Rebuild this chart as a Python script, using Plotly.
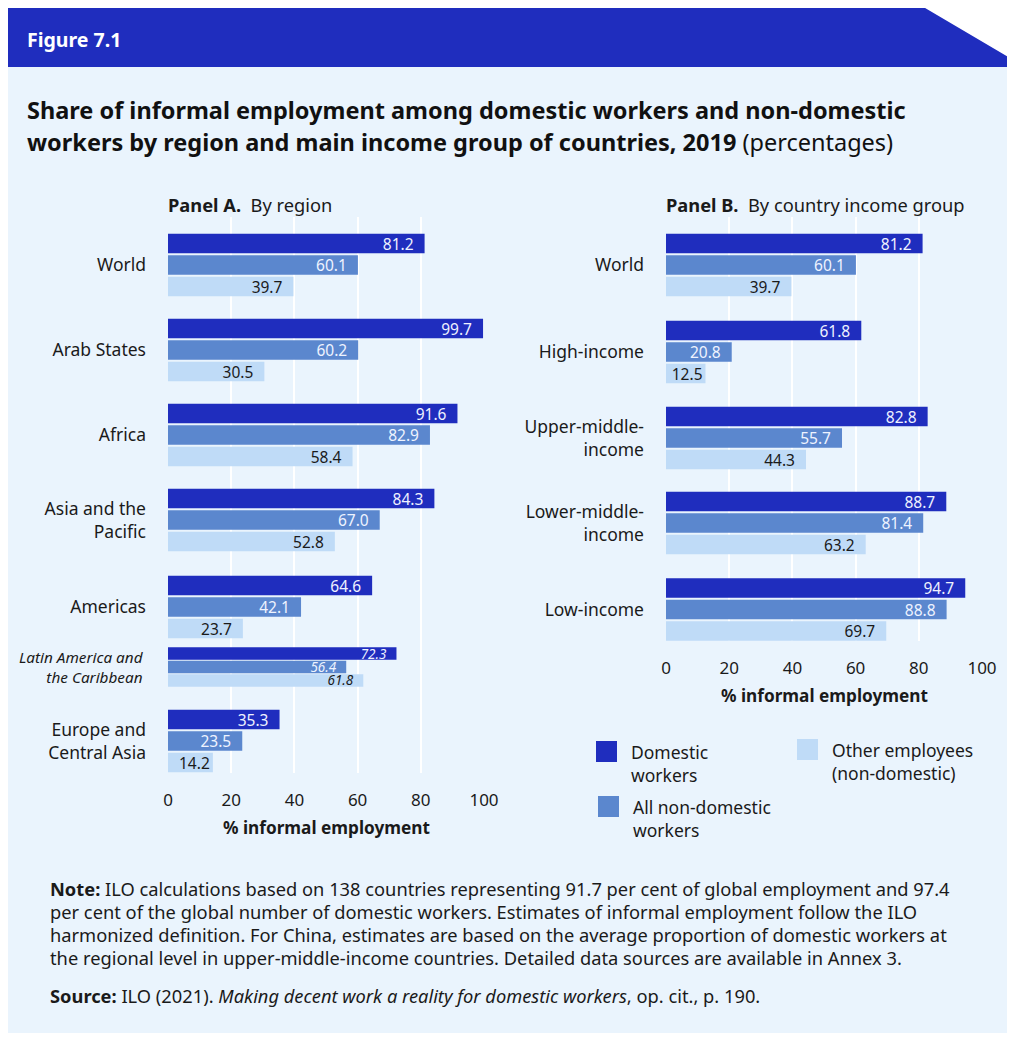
import plotly.graph_objects as go

# ---------------- data ----------------
series_names = ["Domestic workers", "All non-domestic workers", "Other employees (non-domestic)"]
legend_labels = ["Domestic<br>workers", "All non-domestic<br>workers", "Other employees<br>(non-domestic)"]

regions = ["World", "Arab States", "Africa", "Asia and the Pacific", "Americas",
           "Latin America and the Caribbean", "Europe and Central Asia"]
region_tick_labels = ["World", "Arab States", "Africa", "Asia and the<br>Pacific", "Americas",
                      "Latin America and<br>the Caribbean", "Europe and<br>Central Asia"]
region_domestic = [81.2, 99.7, 91.6, 84.3, 64.6, 72.3, 35.3]
region_nondomestic = [60.1, 60.2, 82.9, 67.0, 42.1, 56.4, 23.5]
region_other = [39.7, 30.5, 58.4, 52.8, 23.7, 61.8, 14.2]
region_is_subregion = [False, False, False, False, False, True, False]

income_groups = ["World", "High-income", "Upper-middle-income", "Lower-middle-income", "Low-income"]
income_tick_labels = ["World", "High-income", "Upper-middle-<br>income", "Lower-middle-<br>income", "Low-income"]
income_domestic = [81.2, 61.8, 82.8, 88.7, 94.7]
income_nondomestic = [60.1, 20.8, 55.7, 81.4, 88.8]
income_other = [39.7, 12.5, 44.3, 63.2, 69.7]

x_ticks = [0, 20, 40, 60, 80, 100]

# ---------------- styles / layout ----------------
# page body adds 8px margin; figure sized so the page is exactly the window
OFF = 8
PAGE_W, PAGE_H = 1015, 1041
W, H = PAGE_W - 2 * OFF, PAGE_H - 2 * OFF
FONT = "Noto Sans"
BG = "#EAF4FD"
HEADER = "#1F2DBE"
COLORS = ["#1F2DBE", "#5B87CE", "#BFDBF7"]
TEXT_COLORS = ["#EEF1FF", "#EEF3FF", "#1A1A1A"]
DARK = "#1A1A1A"


def px(x):
    """page pixel x -> paper fraction"""
    return (x - OFF) / W


def py(y):
    """page pixel y -> paper fraction"""
    return 1 - (y - OFF) / H


# panel geometry (page pixels)
A_left, A_right, A_top, A_bottom = 168, 484, 217, 773
B_left, B_right, B_top, B_bottom = 666, 982, 217, 641
LABEL_GAP = 21

# group centres (pixel units on the y axis) and bar pitch
A_centers = [265, 350, 435, 520, 607, 667, 741]
B_centers = [265, 352, 438, 523, 609.5]
PITCH, BAR_W = 21.5, 19.5
SUB_PITCH, SUB_W = 13.4, 12.5

fig = go.Figure()


def add_panel(values_list, centers, subflags, xaxis, yaxis):
    for k, (vals, name) in enumerate(zip(values_list, series_names)):
        ys, widths, texts, sizes = [], [], [], []
        for c, v, sub in zip(centers, vals, subflags):
            p = SUB_PITCH if sub else PITCH
            ys.append(c + (k - 1) * p)
            widths.append(SUB_W if sub else BAR_W)
            t = f"{v:.1f}"
            pad = "\u00a0\u00a0" if v >= 15 else ""
            texts.append((f"<i>{t}</i>" if sub else t) + pad)
            sizes.append(13.5 if sub else 15.5)
        fig.add_trace(go.Bar(
            x=vals, y=ys, width=widths, orientation="h", name=name,
            marker=dict(color=COLORS[k], line=dict(width=0)),
            text=texts, textposition="inside", insidetextanchor="end",
            textangle=0, constraintext="none",
            insidetextfont=dict(family=FONT, size=sizes, color=TEXT_COLORS[k]),
            xaxis=xaxis, yaxis=yaxis, showlegend=False, hoverinfo="skip",
        ))


add_panel([region_domestic, region_nondomestic, region_other], A_centers,
          region_is_subregion, "x", "y")
add_panel([income_domestic, income_nondomestic, income_other], B_centers,
          [False] * len(income_groups), "x2", "y2")

xaxis_common = dict(range=[0, 100], tickvals=x_ticks, showgrid=True, gridcolor="white",
                    gridwidth=1.5, zeroline=False, showline=False, ticks="", automargin=False,
                    tickfont=dict(family=FONT, size=17, color=DARK), ticklabelstandoff=15,
                    fixedrange=True)
yaxis_common = dict(showgrid=False, zeroline=False, showline=False, ticks="", automargin=False,
                    tickfont=dict(family=FONT, size=17.5, color=DARK), ticklabelstandoff=LABEL_GAP,
                    fixedrange=True)

# sub-region labels are drawn separately (smaller italic text)
A_tick_text = ["" if sub else lab for lab, sub in zip(region_tick_labels, region_is_subregion)]

fig.update_layout(
    width=W, height=H,
    margin=dict(l=0, r=0, t=0, b=0, pad=0, autoexpand=False),
    paper_bgcolor="white", plot_bgcolor=BG,
    barmode="overlay",
    font=dict(family=FONT, color=DARK),
    xaxis=dict(domain=[px(A_left), px(A_right)], anchor="y", **xaxis_common),
    yaxis=dict(domain=[py(A_bottom), py(A_top)], anchor="x", range=[A_bottom, A_top],
               tickvals=A_centers, ticktext=A_tick_text, **yaxis_common),
    xaxis2=dict(domain=[px(B_left), px(B_right)], anchor="y2", **xaxis_common),
    yaxis2=dict(domain=[py(B_bottom), py(B_top)], anchor="x2", range=[B_bottom, B_top],
                tickvals=B_centers, ticktext=income_tick_labels, **yaxis_common),
)

shapes = [
    # light blue card
    dict(type="rect", xref="paper", yref="paper", x0=px(4), x1=px(1020), y0=py(1050), y1=py(67),
         fillcolor=BG, line=dict(width=0), layer="below"),
    # header band with slanted corner
    dict(type="path", xref="paper", yref="paper",
         path=f"M {px(5)},{py(5)} L {px(920)},{py(5)} L {px(1015)},{py(61)} "
              f"L {px(1020)},{py(61)} L {px(1020)},{py(67)} L {px(5)},{py(67)} Z",
         fillcolor=HEADER, line=dict(width=0), layer="below"),
]

annotations = []


def ann(x, y, text, size, color=DARK, xanchor="left", bold=False, align="left"):
    annotations.append(dict(
        x=px(x), y=py(y), xref="paper", yref="paper", text=f"<b>{text}</b>" if bold else text,
        showarrow=False, xanchor=xanchor, yanchor="middle", align=align,
        font=dict(family=FONT, size=size, color=color)))


# sub-region category labels (italic, smaller)
for lab, c, sub in zip(region_tick_labels, A_centers, region_is_subregion):
    if sub:
        annotations.append(dict(
            x=px(A_left - 22), y=c, xref="paper", yref="y", text=f"<i>{lab}</i>",
            showarrow=False, xanchor="right", yanchor="middle", align="right",
            font=dict(family=FONT, size=15.3, color=DARK)))

ann(25, 39, "Figure 7.1", 19.5, color="white", bold=True)
ann(25, 110, "<b>Share of informal employment among domestic workers and non-domestic</b>", 23.5, color="#111111")
ann(25, 142, "<b>workers by region and main income group of countries, 2019</b> (percentages)", 23.5, color="#111111")
ann(166, 205, "<b>Panel A.</b>\u00a0 By region", 18.3)
ann(664, 205, "<b>Panel B.</b>\u00a0 By country income group", 18.3)
ann((A_left + A_right) / 2, 827, "% informal employment", 17.2, xanchor="center", bold=True)
ann((B_left + B_right) / 2, 695, "% informal employment", 17.2, xanchor="center", bold=True)

# legend (custom)
legend_pos = [(596, 741), (598, 796), (797, 739)]
for (lx, ly), label, col in zip(legend_pos, legend_labels, COLORS):
    shapes.append(dict(type="rect", xref="paper", yref="paper",
                       x0=px(lx), x1=px(lx + 21), y0=py(ly + 21), y1=py(ly),
                       fillcolor=col, line=dict(width=0)))
    annotations.append(dict(x=px(lx + 33), y=py(ly - 3), xref="paper", yref="paper",
                            text=label, showarrow=False, xanchor="left", yanchor="top",
                            align="left", font=dict(family=FONT, size=17.5, color=DARK)))

note_lines = [
    "<b>Note:</b> ILO calculations based on 138 countries representing 91.7 per cent of global employment and 97.4",
    "per cent of the global number of domestic workers. Estimates of informal employment follow the ILO",
    "harmonized definition. For China, estimates are based on the average proportion of domestic workers at",
    "the regional level in upper-middle-income countries. Detailed data sources are available in Annex 3.",
]
for i, line in enumerate(note_lines):
    ann(48, 888 + i * 23.2, line, 18.3)
ann(48, 995, "<b>Source:</b> ILO (2021). <i>Making decent work a reality for domestic workers</i>, op. cit., p. 190.", 18.3)

fig.update_layout(shapes=shapes, annotations=annotations)
fig.write_html("out.html")
